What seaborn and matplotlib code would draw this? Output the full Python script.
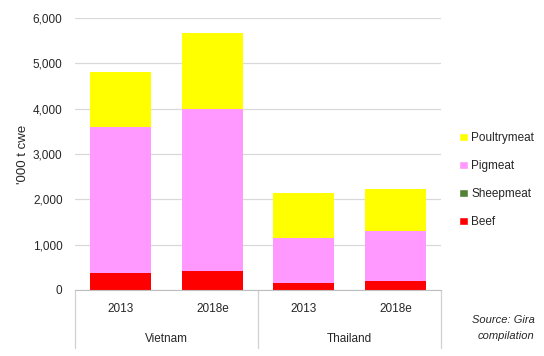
import matplotlib
matplotlib.use("Agg")
import matplotlib.pyplot as plt
import seaborn as sns
import pandas as pd
from matplotlib.patches import Patch
from matplotlib.transforms import blended_transform_factory

countries = ["Vietnam", "Vietnam", "Thailand", "Thailand"]
years = ["2013", "2018e", "2013", "2018e"]
beef = [370, 430, 155, 190]
sheepmeat = [4, 0, 0, 0]
pigmeat = [3226, 3560, 997, 1102]
poultrymeat = [1210, 1680, 990, 940]

series = ["Beef", "Sheepmeat", "Pigmeat", "Poultrymeat"]
colors = {"Beef": "#FF0000", "Sheepmeat": "#548235",
          "Pigmeat": "#FF99FF", "Poultrymeat": "#FFFF00"}

df = pd.DataFrame({"country": countries, "year": years, "Beef": beef,
                   "Sheepmeat": sheepmeat, "Pigmeat": pigmeat,
                   "Poultrymeat": poultrymeat})
df["slot"] = df["country"] + " " + df["year"]
order = list(df["slot"])

sns.set_style("white")
plt.rcParams["font.family"] = ["Liberation Sans", "DejaVu Sans"]

fig = plt.figure(figsize=(5.44, 3.56), dpi=100)
ax = fig.add_axes([0.138, 0.1854, 0.673, 0.764])

# stacked bars: draw cumulative totals, tallest first
cum = df[series].cumsum(axis=1)
for s in reversed(series):
    sns.barplot(x=df["slot"], y=cum[s], order=order, color=colors[s],
                width=0.666, saturation=1, linewidth=0, ax=ax, zorder=2)

ax.set_xlim(-0.5, 3.5)
ax.set_ylim(0, 6000)
ax.set_yticks(range(0, 6001, 1000))
ax.set_yticklabels([f"{v:,}" for v in range(0, 6001, 1000)], fontsize=8.5)
ax.yaxis.grid(True, color="#d9d9d9", linewidth=0.9, zorder=0)
ax.set_axisbelow(True)
ax.tick_params(axis="both", length=0, pad=9)
ax.set_xticks(range(4))
ax.set_xticklabels(years, fontsize=8.5)
ax.tick_params(axis="x", pad=9.5)
ax.set_xlabel("")
ax.set_ylabel("'000 t cwe", fontsize=9.5, labelpad=3)
for side in ["left", "right", "top"]:
    ax.spines[side].set_visible(False)
ax.spines["bottom"].set_color("#bfbfbf")

# hierarchical category axis
trans = blended_transform_factory(ax.transData, ax.transAxes)
for xs in [-0.5, 1.5, 3.5]:
    ax.plot([xs, xs], [0, -0.213], transform=trans, color="#d0d0d0",
            linewidth=0.9, clip_on=False)
for xc, name in [(0.5, "Vietnam"), (2.5, "Thailand")]:
    ax.text(xc, -0.182, name, transform=trans, ha="center", va="center",
            fontsize=8.5)

handles = [Patch(facecolor=colors[s], label=s) for s in reversed(series)]
fig.legend(handles=handles, loc="upper left", bbox_to_anchor=(0.835, 0.642),
           frameon=False, fontsize=8.5, handlelength=0.75, handleheight=0.75,
           handletextpad=0.3, labelspacing=1.35, borderaxespad=0)

fig.text(0.983, 0.101, "Source: Gira", ha="right", va="center",
         fontsize=8, style="italic")
fig.text(0.983, 0.056, "compilation", ha="right", va="center",
         fontsize=8, style="italic")

fig.savefig("out.png", dpi=100)
